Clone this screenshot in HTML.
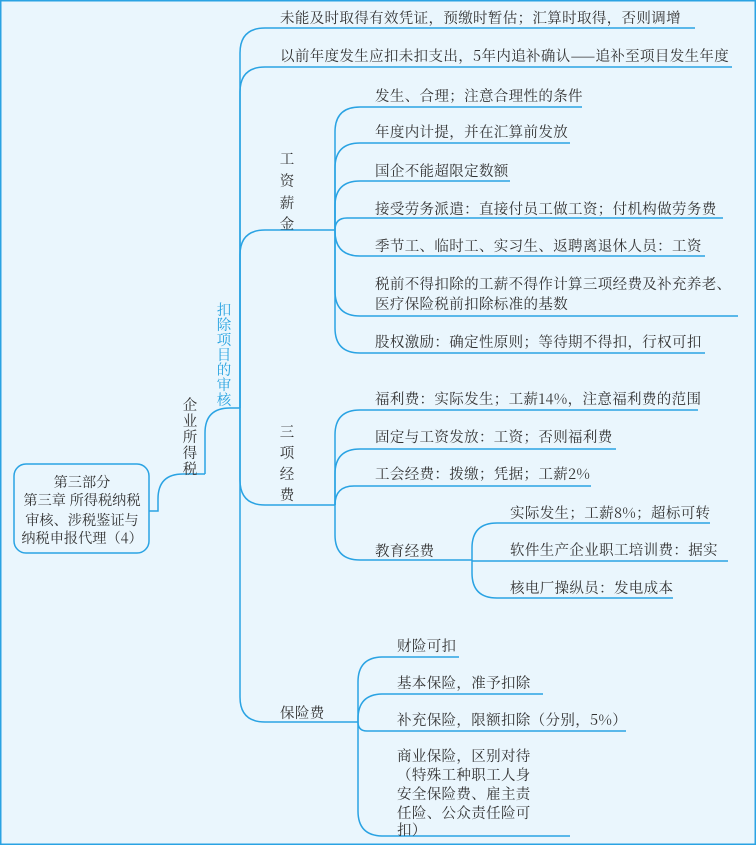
<!DOCTYPE html>
<html><head><meta charset="utf-8"><style>
html,body{margin:0;padding:0;background:#eaf6fd}
svg{display:block}
text{font-family:"Noto Serif CJK SC","Liberation Serif",serif;font-size:14.5px;letter-spacing:0.35px;fill:#333}
.r{font-size:14.2px;letter-spacing:0}
.v{text-anchor:middle;letter-spacing:0}
.b{fill:#29a3e0}
path{fill:none;stroke:#2aa3e3;stroke-width:1.5}
</style></head><body>
<svg width="756" height="845" viewBox="0 0 756 845">
<rect x="0.75" y="0.75" width="754.5" height="843.5" fill="#eaf6fd" stroke="#2aa3e3" stroke-width="1.5"/>
<rect x="14" y="464" width="135" height="89" rx="12" fill="#eaf6fd" stroke="#2aa3e3" stroke-width="1.5"/>
<text class="v r" x="82" y="487">第三部分</text>
<text class="v r" x="82" y="505">第三章 所得税纳税</text>
<text class="v r" x="82" y="525">审核、涉税鉴证与</text>
<text class="v r" x="82" y="543">纳税申报代理（4）</text>
<path d="M149,511 H158 V499 Q158,474 183,474 H205"/>
<path d="M205,474 V433 Q205,408 230,408 H240"/>
<text class="v" x="190" y="410">企</text><text class="v" x="190" y="426">业</text><text class="v" x="190" y="442">所</text><text class="v" x="190" y="458">得</text><text class="v" x="190" y="474">税</text>
<text class="v b" x="224" y="315">扣</text><text class="v b" x="224" y="330">除</text><text class="v b" x="224" y="345">项</text><text class="v b" x="224" y="360">目</text><text class="v b" x="224" y="375">的</text><text class="v b" x="224" y="390">审</text><text class="v b" x="224" y="405">核</text>
<path d="M240,408 V53 Q240,28 265,28 H695"/>
<path d="M240,408 V92 Q240,67 265,67 H732"/>
<path d="M240,408 V255 Q240,230 265,230 H335"/>
<path d="M240,408 V480 Q240,505 265,505 H335"/>
<path d="M240,408 V697 Q240,722 265,722 H358"/>
<text x="280" y="23">未能及时取得有效凭证，预缴时暂估；汇算时取得，否则调增</text>
<text x="280" y="61">以前年度发生应扣未扣支出，5年内追补确认——追补至项目发生年度</text>
<text class="v" x="287" y="164">工</text><text class="v" x="287" y="186">资</text><text class="v" x="287" y="208">薪</text><text class="v" x="287" y="229">金</text>
<path d="M335,230 V132 Q335,107 360,107 H582"/>
<path d="M335,230 V168 Q335,143 360,143 H570"/>
<path d="M335,230 V206 Q335,181 360,181 H510"/>
<path d="M335,230 Q335,218 347,218 H723"/>
<path d="M335,230 V231 Q335,256 360,256 H705"/>
<path d="M335,230 V291 Q335,316 360,316 H738"/>
<path d="M335,230 V328 Q335,353 360,353 H705"/>
<text x="375" y="101">发生、合理；注意合理性的条件</text>
<text x="375" y="137">年度内计提，并在汇算前发放</text>
<text x="375" y="176">国企不能超限定数额</text>
<text x="375" y="214">接受劳务派遣：直接付员工做工资；付机构做劳务费</text>
<text x="375" y="251">季节工、临时工、实习生、返聘离退休人员：工资</text>
<text x="375" y="289">税前不得扣除的工薪不得作计算三项经费及补充养老、</text>
<text x="375" y="309">医疗保险税前扣除标准的基数</text>
<text x="375" y="347">股权激励：确定性原则；等待期不得扣，行权可扣</text>
<text class="v" x="287" y="437">三</text><text class="v" x="287" y="458">项</text><text class="v" x="287" y="479">经</text><text class="v" x="287" y="500">费</text>
<path d="M335,505 V435 Q335,410 360,410 H698"/>
<path d="M335,505 V474 Q335,449 360,449 H616"/>
<path d="M335,505 Q335,486 354,486 H591"/>
<path d="M335,505 V535 Q335,560 360,560 H472"/>
<text x="375" y="404">福利费：实际发生；工薪14%，注意福利费的范围</text>
<text x="375" y="442">固定与工资发放：工资；否则福利费</text>
<text x="375" y="479">工会经费：拨缴；凭据；工薪2%</text>
<text x="375" y="556">教育经费</text>
<path d="M472,560 V548 Q472,523 497,523 H710"/>
<path d="M472,561 H728"/>
<path d="M472,560 V573 Q472,598 497,598 H673"/>
<text x="510" y="518">实际发生；工薪8%；超标可转</text>
<text x="510" y="555">软件生产企业职工培训费：据实</text>
<text x="510" y="593">核电厂操纵员：发电成本</text>
<text x="280" y="718">保险费</text>
<path d="M358,722 V682 Q358,657 383,657 H459"/>
<path d="M358,722 V719 Q358,694 383,694 H543"/>
<path d="M358,722 Q358,731 367,731 H626"/>
<path d="M358,722 V811 Q358,836 383,836 H570"/>
<text x="397" y="651">财险可扣</text>
<text x="397" y="688">基本保险，准予扣除</text>
<text x="397" y="725">补充保险，限额扣除（分别，5%）</text>
<text x="397" y="761">商业保险，区别对待</text>
<text x="397" y="780">（特殊工种职工人身</text>
<text x="397" y="799">安全保险费、雇主责</text>
<text x="397" y="818">任险、公众责任险可</text>
<text x="397" y="835">扣）</text>
</svg>
</body></html>
